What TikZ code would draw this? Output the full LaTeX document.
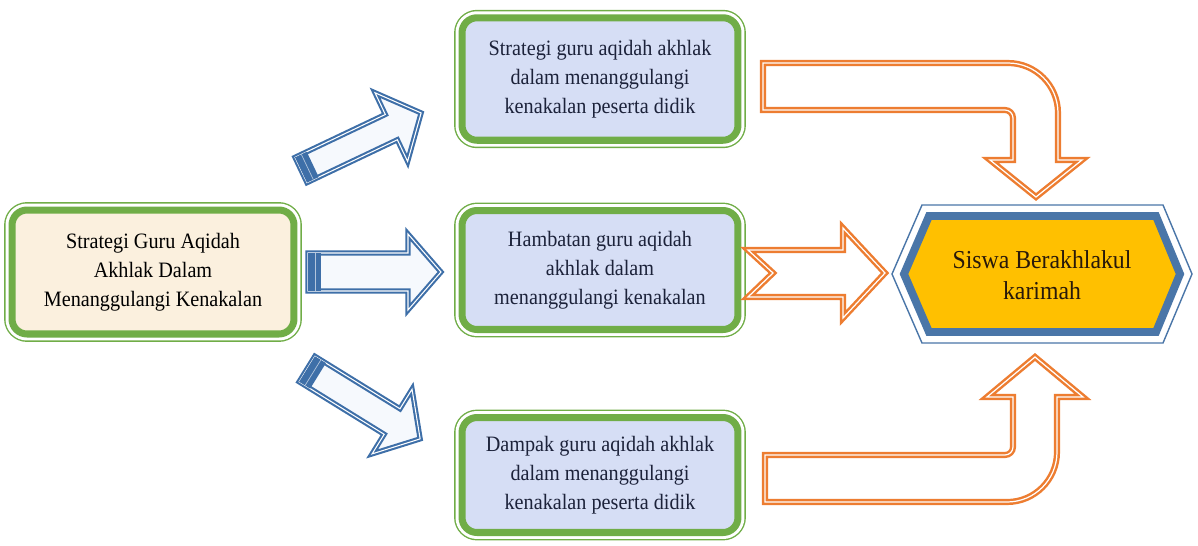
\documentclass[tikz,border=0pt]{standalone}
\usepackage{fontspec}
\setmainfont{Liberation Serif}[FakeStretch=0.92]

\definecolor{boxgreen}{RGB}{112,173,71}
\definecolor{creamfill}{RGB}{251,240,222}
\definecolor{lavfill}{RGB}{214,222,245}
\definecolor{navytext}{RGB}{28,34,58}
\definecolor{arrowblue}{RGB}{62,111,168}
\definecolor{arroworange}{RGB}{237,125,49}
\definecolor{goalyellow}{RGB}{255,192,0}
\definecolor{goalblue}{RGB}{74,118,168}

\tikzset{
  greenbox/.style={rectangle, rounded corners=0.3cm, align=center,
    preaction={draw=boxgreen, line width=9pt},
    preaction={draw=white, line width=7.4pt},
    draw=boxgreen, line width=4pt, inner sep=2pt,
    minimum width=5.52cm, minimum height=2.45cm,
    font=\fontsize{12.5}{16.5}\selectfont},
  srcbox/.style={greenbox, fill=creamfill, minimum width=5.64cm, minimum height=2.48cm},
  midbox/.style={greenbox, fill=lavfill, text=navytext},
  bluearrow/.style={draw=arrowblue, double={white}, double distance=0.6pt,
    line width=1.2pt, fill={rgb,255:red,246;green,249;blue,253}, line join=miter},
  orangearrow/.style={draw=arroworange, double={white}, double distance=0.7pt,
    line width=1.4pt, fill=white, line join=miter},
  goaltext/.style={align=center, font=\fontsize{14.7}{18}\selectfont, text={rgb,255:red,40;green,25;blue,10}}
}

% block arrow along +x, #1 = half width of the shaft
\newcommand{\bluearr}[1]{%
  \filldraw[bluearrow] (0,-#1) -- (100,-#1) -- (100,-38) -- (133,0) -- (100,38) -- (100,#1) -- (0,#1) -- cycle;
  \fill[arrowblue] (0,-#1) rectangle (13,#1);
  \draw[white!60!arrowblue, line width=0.4pt] (7,-#1) -- (7,#1);}

\begin{document}
\begin{tikzpicture}[x=0.02cm,y=-0.02cm]
  \useasboundingbox (0,0) rectangle (1198,545);

  % boxes
  \node[srcbox] (src) at (153,272) {Strategi Guru Aqidah\\Akhlak Dalam\\Menanggulangi Kenakalan};
  \node[midbox] (strat) at (600,79) {Strategi guru aqidah akhlak\\dalam menanggulangi\\kenakalan peserta didik};
  \node[midbox, minimum height=2.38cm] (hamb) at (600,270) {Hambatan guru aqidah\\akhlak dalam\\menanggulangi kenakalan};
  \node[midbox, minimum height=2.3cm] (damp) at (600,475) {Dampak guru aqidah akhlak\\dalam menanggulangi\\kenakalan peserta didik};

  % blue arrows
  \begin{scope}[shift={(301,170)}, rotate=25.4]
    \bluearr{14}
  \end{scope}
  \begin{scope}[shift={(308,272)}]
    \bluearr{19}
  \end{scope}
  \begin{scope}[shift={(307,369)}, rotate=-31.7]
    \bluearr{15}
  \end{scope}

  % orange arrows
  \filldraw[orangearrow] (763,63) -- (1008,63) arc[start angle=-90, end angle=0, radius=50]
    -- (1058,160) -- (1082,160) -- (1036,197) -- (990,160) -- (1013,160)
    -- (1013,118) arc[start angle=0, end angle=-90, radius=8] -- (763,110) -- cycle;
  \filldraw[orangearrow] (748,250) -- (843,250) -- (843,228) -- (885,273) -- (843,318)
    -- (843,297) -- (748,297) -- (773,273) -- cycle;
  \filldraw[orangearrow] (765,502) -- (1007,502) arc[start angle=90, end angle=0, radius=50]
    -- (1057,397) -- (1083,397) -- (1035,357) -- (987,397) -- (1013,397)
    -- (1013,447) arc[start angle=0, end angle=90, radius=8] -- (765,455) -- cycle;

  % goal hexagon
  \filldraw[draw=goalblue, fill=white, line width=0.8pt]
    (892,274) -- (922,205) -- (1163,205) -- (1192,274) -- (1163,343) -- (922,343) -- cycle;
  \filldraw[draw=goalblue, fill=goalyellow, line width=4.5pt, line join=miter]
    (904,274) -- (929,216) -- (1156,216) -- (1180,274) -- (1156,332) -- (929,332) -- cycle;
  \node[goaltext] (goal) at (1042,275) {Siswa Berakhlakul\\karimah};
\end{tikzpicture}
\end{document}
